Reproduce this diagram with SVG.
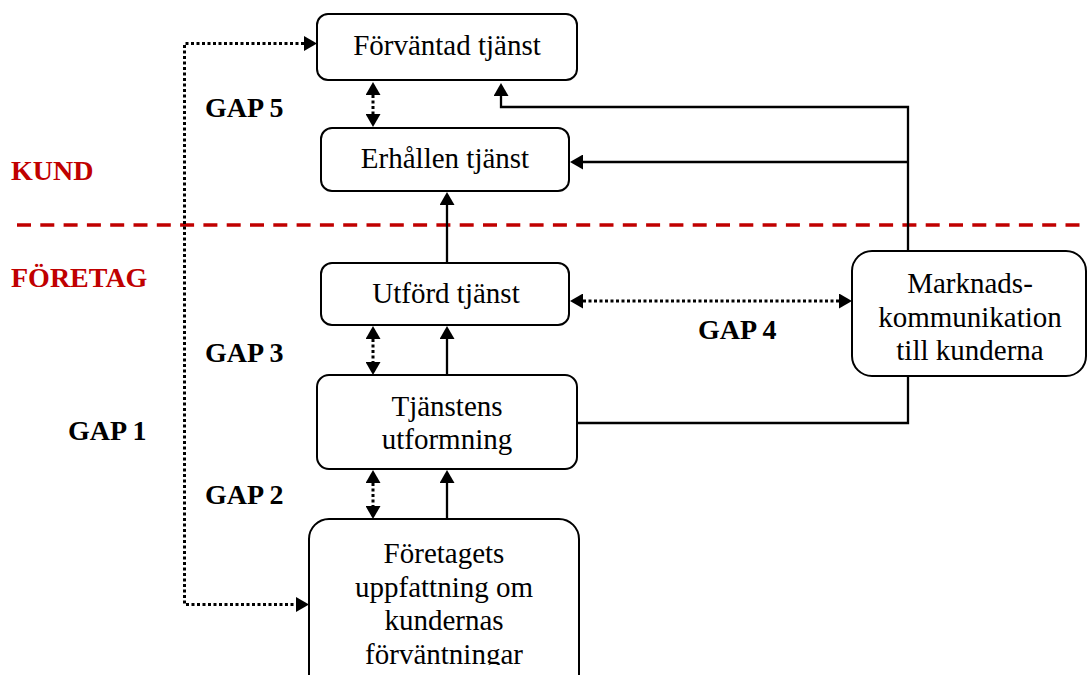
<svg xmlns="http://www.w3.org/2000/svg" width="1088" height="675" viewBox="0 0 1088 675">
<style>
.box{fill:#fff;stroke:#000;stroke-width:2}
.t{font-family:'Liberation Serif',serif;font-size:29px;fill:#000;text-anchor:middle}
.gap{font-family:'Liberation Serif',serif;font-size:28px;font-weight:bold;fill:#000}
.zone{font-family:'Liberation Serif',serif;font-size:28px;font-weight:bold;fill:#c00000}
.solid{fill:none;stroke:#000;stroke-width:2.3}
.dot{fill:none;stroke:#000;stroke-width:3;stroke-dasharray:3 2.5}
</style>
<defs>
<marker id="arr" markerUnits="userSpaceOnUse" viewBox="0 0 13 15" markerWidth="13" markerHeight="15" refX="0" refY="7.5" orient="auto-start-reverse">
<path d="M0,0 L13,7.5 L0,15 Z" fill="#000"/>
</marker>
<clipPath id="clipF"><rect x="300" y="510" width="300" height="155"/></clipPath>
</defs>
<line x1="17" y1="225" x2="1088" y2="225" stroke="#c00000" stroke-width="3.5" stroke-dasharray="14 9.3"/>
<g font-family="Liberation Serif, serif">
<text class="zone" x="11" y="180">KUND</text>
<text class="zone" x="11" y="287">FÖRETAG</text>
<text class="gap" x="205" y="117">GAP 5</text>
<text class="gap" x="205" y="362">GAP 3</text>
<text class="gap" x="205" y="504">GAP 2</text>
<text class="gap" x="68" y="440">GAP 1</text>
<text class="gap" x="698" y="339">GAP 4</text>
</g>
<g id="connectors">
<path class="dot" d="M304 43.5 H184.5 V604.5 H296" marker-start="url(#arr)" marker-end="url(#arr)"/>
<path class="dot" d="M373 95 V114" marker-start="url(#arr)" marker-end="url(#arr)"/>
<path class="dot" d="M373 339 V362" marker-start="url(#arr)" marker-end="url(#arr)"/>
<path class="dot" d="M373 483 V506" marker-start="url(#arr)" marker-end="url(#arr)"/>
<path class="dot" d="M583 301 H839" marker-start="url(#arr)" marker-end="url(#arr)"/>
<path class="solid" d="M447 263 V205" marker-end="url(#arr)"/>
<path class="solid" d="M447 375 V339" marker-end="url(#arr)"/>
<path class="solid" d="M447 519 V483" marker-end="url(#arr)"/>
<path class="solid" d="M908 251 V107 H501 V96" marker-end="url(#arr)"/>
<path class="solid" d="M908 162 H583" marker-end="url(#arr)"/>
<path class="solid" d="M908 376 V423 H577"/>
</g>
<g id="forvantad" font-family="Liberation Serif, serif">
<rect class="box" x="317" y="14" width="260" height="66" rx="11"/>
<text class="t" x="447" y="55">Förväntad tjänst</text>
</g>
<g id="erhallen" font-family="Liberation Serif, serif">
<rect class="box" x="321" y="128" width="248" height="63" rx="11"/>
<text class="t" x="445" y="168">Erhållen tjänst</text>
</g>
<g id="utford" font-family="Liberation Serif, serif">
<rect class="box" x="321" y="263" width="248" height="62" rx="11"/>
<text class="t" x="446" y="303">Utförd tjänst</text>
</g>
<g id="tjanstens" font-family="Liberation Serif, serif">
<rect class="box" x="317" y="375" width="260" height="94" rx="12"/>
<text class="t" x="447" y="416">Tjänstens</text>
<text class="t" x="447" y="449">utformning</text>
</g>
<g id="foretagets" font-family="Liberation Serif, serif">
<rect class="box" x="309" y="519" width="270" height="180" rx="20"/>
<g clip-path="url(#clipF)">
<text class="t" x="444" y="563">Företagets</text>
<text class="t" x="444" y="597">uppfattning om</text>
<text class="t" x="444" y="630">kundernas</text>
<text class="t" x="444" y="664">förväntningar</text>
</g>
</g>
<g id="marknads" font-family="Liberation Serif, serif">
<rect class="box" x="852" y="251" width="234" height="125" rx="20"/>
<text class="t" x="970" y="293">Marknads-</text>
<text class="t" x="970" y="327">kommunikation</text>
<text class="t" x="970" y="360">till kunderna</text>
</g>
</svg>
